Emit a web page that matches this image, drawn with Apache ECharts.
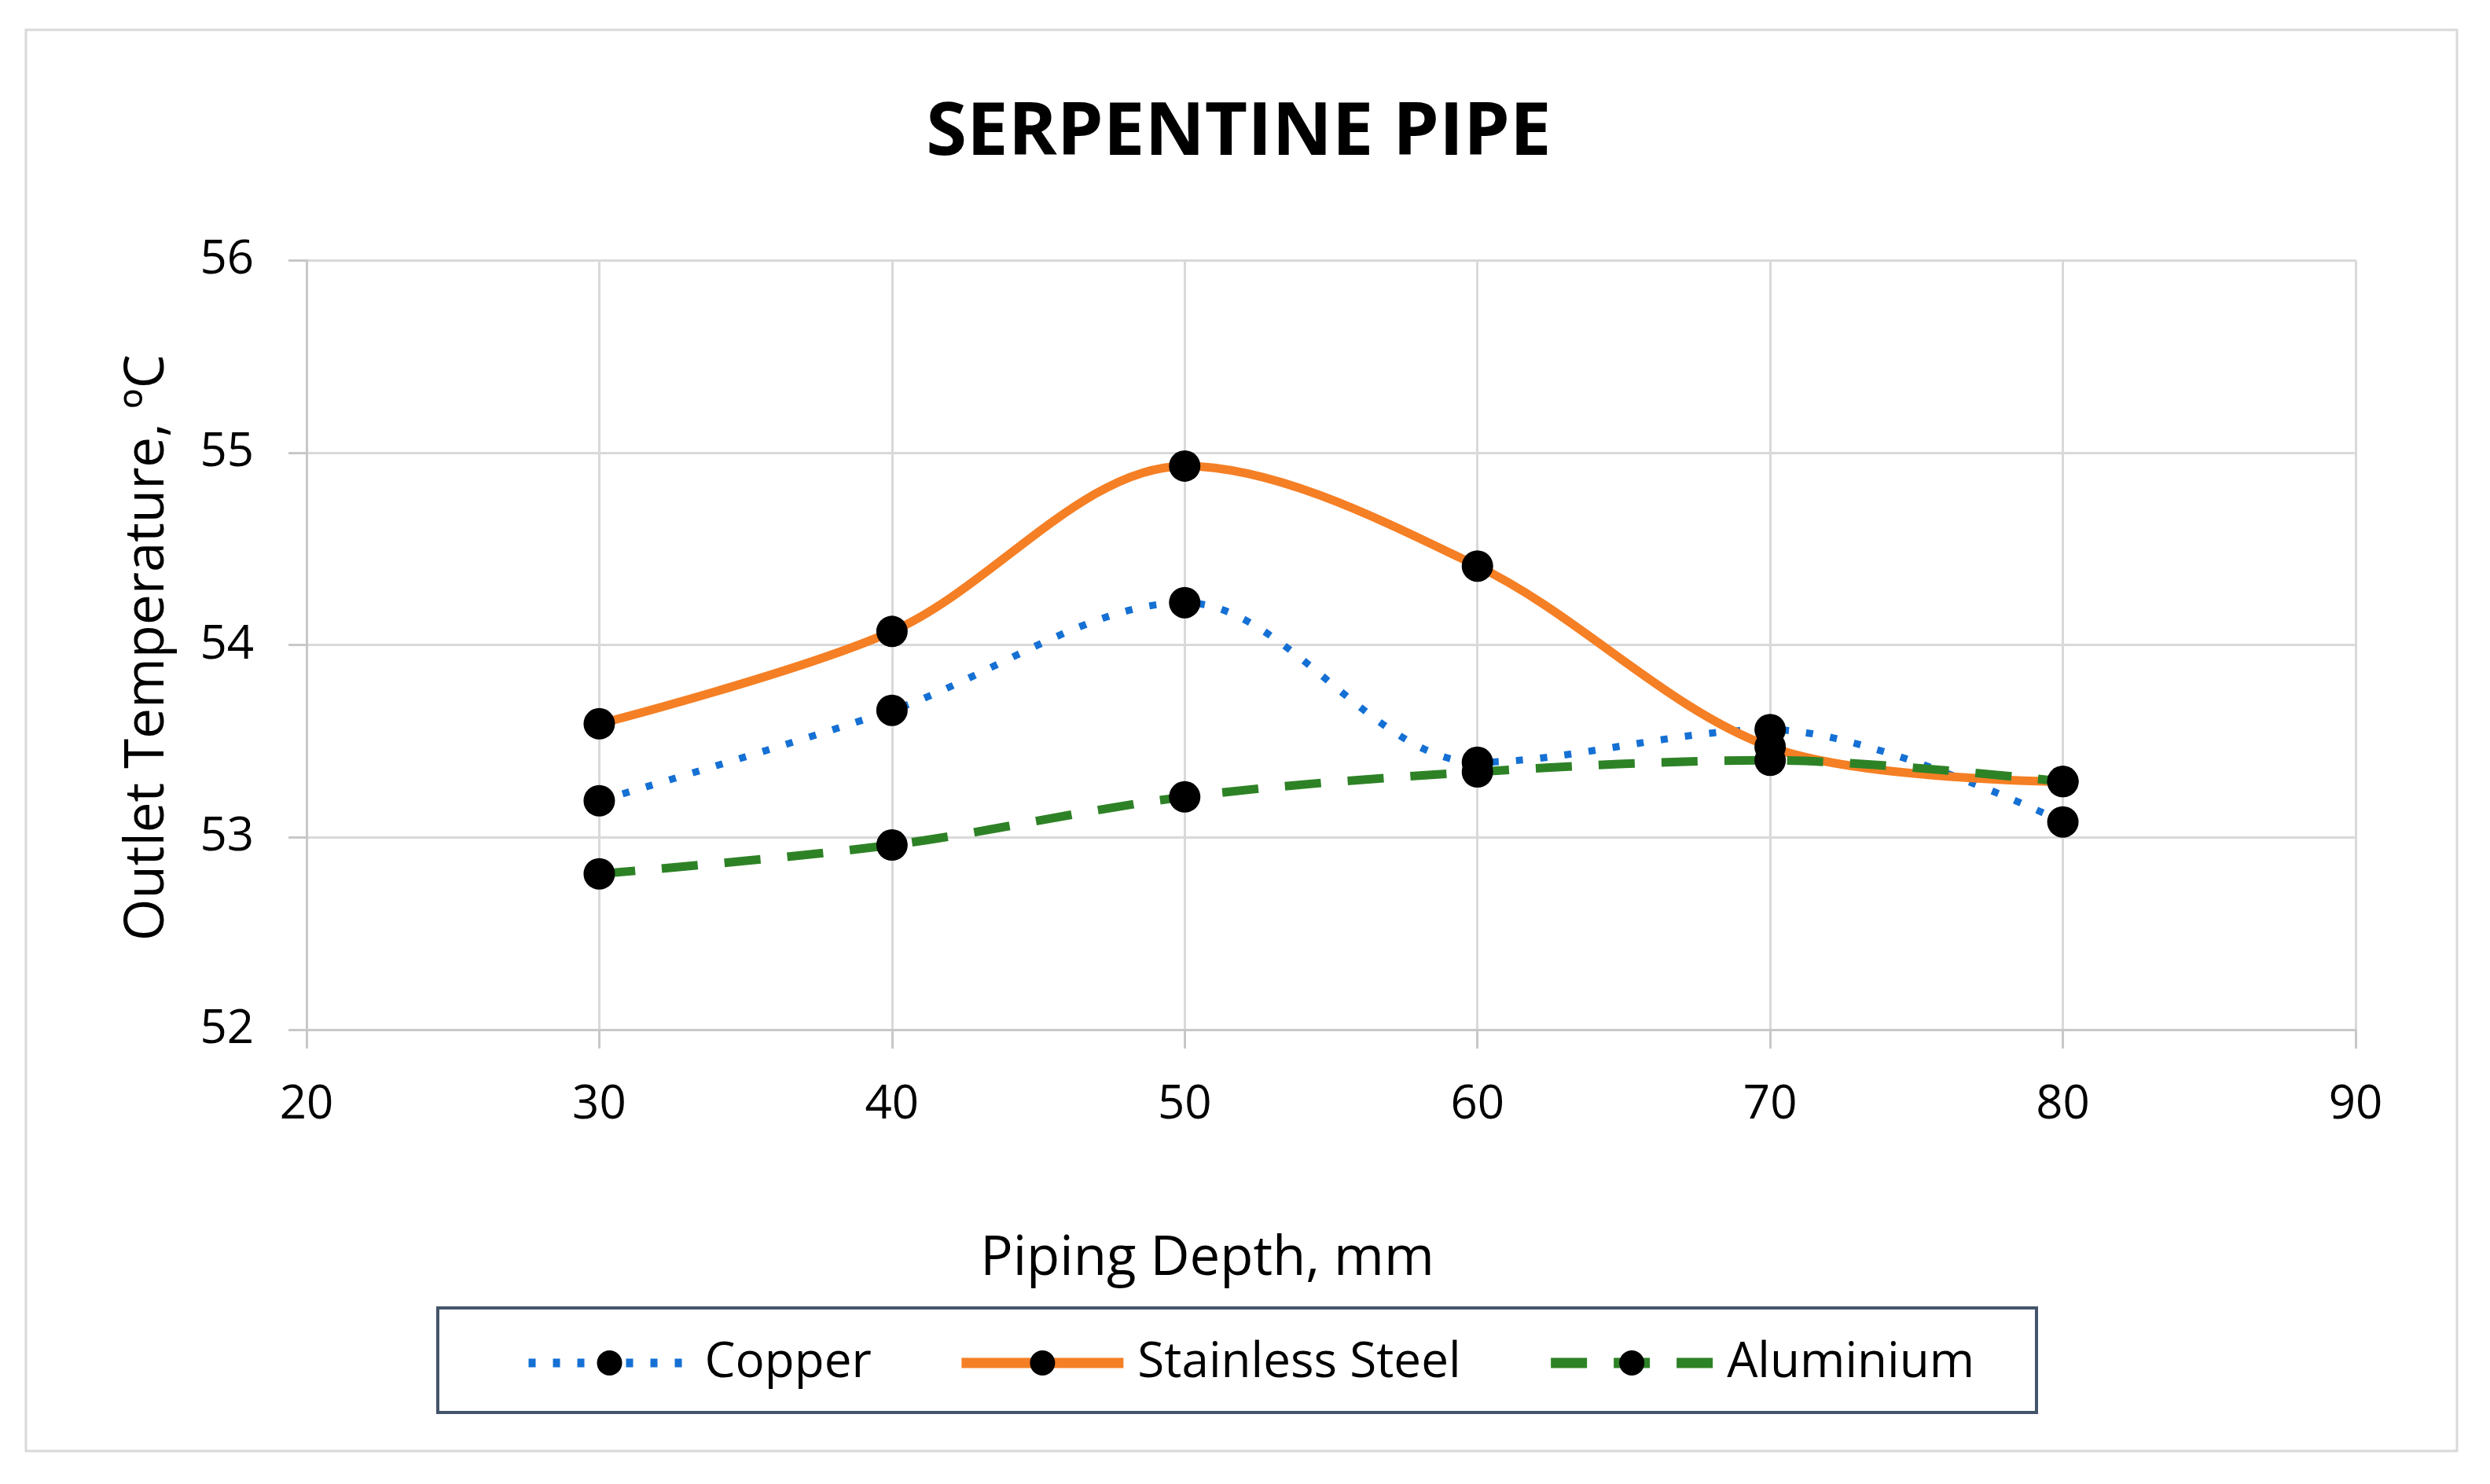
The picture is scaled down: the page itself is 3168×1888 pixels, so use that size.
<!DOCTYPE html>
<html>
<head>
<meta charset="utf-8">
<script src="https://cdn.jsdelivr.net/npm/echarts@6/dist/echarts.min.js"></script>
<style>
html,body{margin:0;padding:0;background:#fff;}
#chart{width:3168px;height:1888px;}
</style>
</head>
<body>
<div id="chart"></div>
<script>
// ---- data ----
const depths = [30, 40, 50, 60, 70, 80];
const copper = [53.19, 53.66, 54.22, 53.39, 53.56, 53.08];
const stainlessSteel = [53.59, 54.07, 54.93, 54.41, 53.47, 53.29];
const aluminium = [52.81, 52.96, 53.21, 53.34, 53.40, 53.29];
const seriesNames = ['Copper', 'Stainless Steel', 'Aluminium'];
const chartTitle = 'SERPENTINE PIPE';
const xTitle = 'Piping Depth, mm';
const yTitle = 'Outlet Temperature, ºC';

const pair = (ys) => depths.map((x, i) => [x, ys[i]]);
const FONT = '"Open Sans", "Noto Sans", sans-serif';

const styles = [
  {color: '#1570d4', width: 9, type: [9, 22], cap: 'butt'},
  {color: '#f57f24', width: 11, type: 'solid', cap: 'butt'},
  {color: '#2e8226', width: 11, type: [46, 34], cap: 'butt'}
];

const chart = echarts.init(document.getElementById('chart'), null, {renderer: 'canvas'});
chart.setOption({
  animation: false,
  backgroundColor: '#ffffff',
  graphic: [
    {type: 'rect', shape: {x: 33, y: 38, width: 3093, height: 1808},
     style: {fill: 'none', stroke: '#d9d9d9', lineWidth: 3}, z: -10},
    {type: 'text', x: 1576, y: 170,
     style: {text: chartTitle, font: 'bold 94px ' + FONT, fill: '#000', align: 'center', verticalAlign: 'middle'}},
    {type: 'text', x: 1536, y: 1602,
     style: {text: xTitle, font: '69px ' + FONT, fill: '#000', align: 'center', verticalAlign: 'middle'}},
    {type: 'text', x: 188, y: 824, rotation: Math.PI / 2,
     style: {text: yTitle, font: '69px ' + FONT, fill: '#000', align: 'center', verticalAlign: 'middle'}},
    {type: 'rect', shape: {x: 557, y: 1664, width: 2034, height: 133},
     style: {fill: 'none', stroke: '#44546a', lineWidth: 4}}
  ],
  grid: {left: 390, right: 171, top: 331, bottom: 578, containLabel: false},
  legend: {
    data: seriesNames.map((n, i) => ({name: n, lineStyle: {width: styles[i].width + 2, type: styles[i].type, cap: styles[i].cap, color: styles[i].color}})),
    left: 667, top: 1703,
    itemWidth: 206, itemHeight: 40, itemGap: 108,
    padding: 0,
    textStyle: {fontFamily: FONT, fontSize: 62, color: '#000', padding: [0, 0, 0, 13]}
  },
  xAxis: {
    type: 'value', min: 20, max: 90, interval: 10,
    axisLine: {show: true, lineStyle: {color: '#c8c8c8', width: 3}},
    axisTick: {show: true, length: 24, lineStyle: {color: '#c8c8c8', width: 3}},
    axisLabel: {fontFamily: FONT, fontSize: 60, color: '#000', margin: 66},
    splitLine: {show: true, lineStyle: {color: '#d9d9d9', width: 3}}
  },
  yAxis: {
    type: 'value', min: 52, max: 56, interval: 1,
    axisLine: {show: true, lineStyle: {color: '#c8c8c8', width: 3}},
    axisTick: {show: true, length: 23, lineStyle: {color: '#c8c8c8', width: 3}},
    axisLabel: {fontFamily: FONT, fontSize: 60, color: '#000', margin: 67},
    splitLine: {show: true, lineStyle: {color: '#d9d9d9', width: 3}}
  },
  series: [
    {
      name: seriesNames[0], type: 'line', data: pair(copper), smooth: 0.33,
      symbol: 'circle', symbolSize: 40,
      itemStyle: {color: '#000'},
      lineStyle: styles[0]
    },
    {
      name: seriesNames[1], type: 'line', data: pair(stainlessSteel), smooth: 0.33,
      symbol: 'circle', symbolSize: 40,
      itemStyle: {color: '#000'},
      lineStyle: styles[1]
    },
    {
      name: seriesNames[2], type: 'line', data: pair(aluminium), smooth: 0.33,
      symbol: 'circle', symbolSize: 40,
      itemStyle: {color: '#000'},
      lineStyle: styles[2]
    }
  ]
});
</script>
</body>
</html>
